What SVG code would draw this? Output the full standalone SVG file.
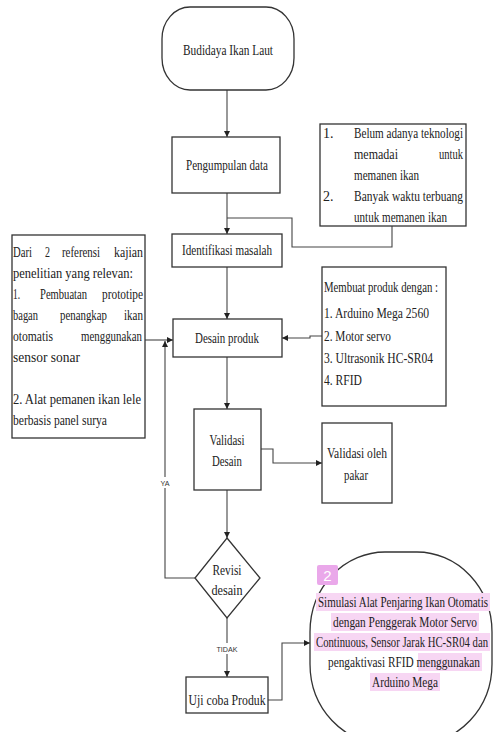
<svg xmlns="http://www.w3.org/2000/svg" width="494" height="732" viewBox="0 0 494 732">
<style>
.box{fill:#fff;stroke:#333;stroke-width:1.3}
.ln{fill:none;stroke:#444;stroke-width:1.1}
.t{font-family:"Liberation Serif","Times New Roman",serif;font-size:14px;fill:#222}
.c{text-anchor:middle}
.e{text-anchor:end}
.lab{font-family:"Liberation Sans",Arial,sans-serif;font-size:8px;fill:#333;text-anchor:middle}
.hl{fill:#f7d6f3}
</style>
<defs>
<marker id="ah" markerUnits="userSpaceOnUse" markerWidth="7" markerHeight="7" refX="6" refY="3" orient="auto">
<path d="M0,0 L6,3 L0,6 z" fill="#222"/>
</marker>
</defs>
<rect width="494" height="732" fill="#fff"/>

<g id="connectors">
<path class="ln" d="M227,90 V137" marker-end="url(#ah)"/>
<path class="ln" d="M227,193 V234" marker-end="url(#ah)"/>
<path class="ln" d="M392,226 V247 H292 V218 H227"/>
<path class="ln" d="M227,267 V319" marker-end="url(#ah)"/>
<path class="ln" d="M145,340 H173" marker-end="url(#ah)"/>
<path class="ln" d="M322,336 H310 V338 H282" marker-end="url(#ah)"/>
<path class="ln" d="M227,357 V409" marker-end="url(#ah)"/>
<path class="ln" d="M261,449 H273 V463 H322" marker-end="url(#ah)"/>
<path class="ln" d="M227,490 V538" marker-end="url(#ah)"/>
<path class="ln" d="M195,578 H165 V341" marker-end="url(#ah)"/>
<path class="ln" d="M227,618 V677" marker-end="url(#ah)"/>
<path class="ln" d="M268,700 H282 V643 H310" marker-end="url(#ah)"/>
<rect x="159" y="477" width="12" height="11" fill="#fff"/>
<text class="lab" x="165" y="486" textLength="9" lengthAdjust="spacingAndGlyphs">YA</text>
<rect x="215" y="643" width="24" height="11" fill="#fff"/>
<text class="lab" x="227" y="652" textLength="21" lengthAdjust="spacingAndGlyphs">TIDAK</text>
</g>

<g id="start">
<rect class="box" x="162" y="7" width="132" height="83" rx="28" ry="32"/>
<text class="t c" x="228" y="55" textLength="90" lengthAdjust="spacingAndGlyphs">Budidaya Ikan  Laut</text>
</g>

<g id="pengumpulan">
<rect class="box" x="172" y="137" width="108" height="56"/>
<text class="t c" x="227" y="170" textLength="82" lengthAdjust="spacingAndGlyphs">Pengumpulan data</text>
</g>

<g id="masalah-list">
<rect class="box" x="320" y="124" width="146" height="102"/>
<text class="t" x="323" y="138">1.</text>
<text class="t" x="354" y="138" textLength="109" lengthAdjust="spacingAndGlyphs">Belum adanya teknologi</text>
<text class="t" x="354" y="159" textLength="44" lengthAdjust="spacingAndGlyphs">memadai</text>
<text class="t e" x="463" y="159" textLength="24" lengthAdjust="spacingAndGlyphs">untuk</text>
<text class="t" x="354" y="180" textLength="65" lengthAdjust="spacingAndGlyphs">memanen ikan</text>
<text class="t" x="323" y="201">2.</text>
<text class="t" x="354" y="201" textLength="109" lengthAdjust="spacingAndGlyphs">Banyak  waktu  terbuang</text>
<text class="t" x="354" y="222" textLength="93" lengthAdjust="spacingAndGlyphs">untuk memanen ikan</text>
</g>

<g id="identifikasi">
<rect class="box" x="172" y="234" width="110" height="33"/>
<text class="t c" x="227" y="255" textLength="90" lengthAdjust="spacingAndGlyphs">Identifikasi masalah</text>
</g>

<g id="referensi">
<rect class="box" x="12" y="235" width="133" height="203"/>
<text class="t" x="13" y="257" textLength="19" lengthAdjust="spacingAndGlyphs">Dari</text>
<text class="t" x="45" y="257" textLength="5" lengthAdjust="spacingAndGlyphs">2</text>
<text class="t" x="62" y="257" textLength="38" lengthAdjust="spacingAndGlyphs">referensi</text>
<text class="t e" x="143" y="257" textLength="29" lengthAdjust="spacingAndGlyphs">kajian</text>
<text class="t" x="13" y="278" textLength="120" lengthAdjust="spacingAndGlyphs">penelitian yang relevan:</text>
<text class="t" x="13" y="299" textLength="7" lengthAdjust="spacingAndGlyphs">1.</text>
<text class="t" x="40" y="299" textLength="47" lengthAdjust="spacingAndGlyphs">Pembuatan</text>
<text class="t e" x="143" y="299" textLength="41" lengthAdjust="spacingAndGlyphs">prototipe</text>
<text class="t" x="13" y="320" textLength="25" lengthAdjust="spacingAndGlyphs">bagan</text>
<text class="t" x="60" y="320" textLength="47" lengthAdjust="spacingAndGlyphs">penangkap</text>
<text class="t e" x="143" y="320" textLength="19" lengthAdjust="spacingAndGlyphs">ikan</text>
<text class="t" x="13" y="341" textLength="40" lengthAdjust="spacingAndGlyphs">otomatis</text>
<text class="t e" x="142" y="341" textLength="61" lengthAdjust="spacingAndGlyphs">menggunakan</text>
<text class="t" x="13" y="362" textLength="67" lengthAdjust="spacingAndGlyphs">sensor sonar</text>
<text class="t" x="13" y="404" textLength="128" lengthAdjust="spacingAndGlyphs">2. Alat pemanen  ikan lele</text>
<text class="t" x="13" y="425" textLength="94" lengthAdjust="spacingAndGlyphs">berbasis panel surya</text>
</g>

<g id="desain-produk">
<rect class="box" x="173" y="319" width="109" height="38"/>
<text class="t c" x="227" y="343" textLength="64" lengthAdjust="spacingAndGlyphs">Desain produk</text>
</g>

<g id="komponen">
<rect class="box" x="322" y="267" width="124" height="139"/>
<text class="t" x="324" y="292" textLength="114" lengthAdjust="spacingAndGlyphs">Membuat produk dengan :</text>
<text class="t" x="324" y="318" textLength="105" lengthAdjust="spacingAndGlyphs">1. Arduino  Mega  2560</text>
<text class="t" x="324" y="341" textLength="67" lengthAdjust="spacingAndGlyphs">2.  Motor servo</text>
<text class="t" x="324" y="363" textLength="109" lengthAdjust="spacingAndGlyphs">3.  Ultrasonik  HC-SR04</text>
<text class="t" x="324" y="385" textLength="38" lengthAdjust="spacingAndGlyphs">4.  RFID</text>
</g>

<g id="validasi-desain">
<rect class="box" x="194" y="409" width="67" height="81"/>
<text class="t c" x="227" y="445" textLength="35" lengthAdjust="spacingAndGlyphs">Validasi</text>
<text class="t c" x="227" y="466" textLength="30" lengthAdjust="spacingAndGlyphs">Desain</text>
</g>

<g id="validasi-pakar">
<rect class="box" x="322" y="423" width="70" height="80"/>
<text class="t c" x="357" y="458" textLength="60" lengthAdjust="spacingAndGlyphs">Validasi oleh</text>
<text class="t c" x="356" y="480" textLength="24" lengthAdjust="spacingAndGlyphs">pakar</text>
</g>

<g id="revisi">
<polygon class="box" points="227,538 260,578 227,618 195,578"/>
<text class="t c" x="227" y="575" textLength="29" lengthAdjust="spacingAndGlyphs">Revisi</text>
<text class="t c" x="227" y="595" textLength="31" lengthAdjust="spacingAndGlyphs">desain</text>
</g>

<g id="uji-coba">
<rect class="box" x="186" y="677" width="82" height="36"/>
<text class="t c" x="227" y="705" textLength="77" lengthAdjust="spacingAndGlyphs">Uji coba Produk</text>
</g>

<g id="hasil">
<rect class="box" x="310" y="552" width="182" height="192" rx="75" ry="80"/>
<rect x="317" y="565" width="21" height="20" rx="2" fill="#eaa8ea"/>
<text x="327.5" y="581" font-family="Liberation Sans, Arial, sans-serif" font-size="15" fill="#fff" text-anchor="middle">2</text>
<rect class="hl" x="316" y="593" width="174" height="18"/>
<rect class="hl" x="331" y="613" width="148" height="18"/>
<rect class="hl" x="314" y="633" width="176" height="18"/>
<rect class="hl" x="418" y="653" width="64" height="18"/>
<rect class="hl" x="370" y="673" width="70" height="18"/>
<text class="t c" x="403" y="607" textLength="170" lengthAdjust="spacingAndGlyphs">Simulasi Alat Penjaring  Ikan Otomatis</text>
<text class="t c" x="405" y="627" textLength="144" lengthAdjust="spacingAndGlyphs">dengan  Penggerak Motor Servo</text>
<text class="t c" x="402" y="647" textLength="172" lengthAdjust="spacingAndGlyphs">Continuous, Sensor Jarak HC-SR04 dan</text>
<text class="t" x="328" y="667" textLength="152" lengthAdjust="spacingAndGlyphs">pengaktivasi  RFID  menggunakan</text>
<text class="t c" x="405" y="687" textLength="66" lengthAdjust="spacingAndGlyphs">Arduino Mega</text>
</g>
</svg>
